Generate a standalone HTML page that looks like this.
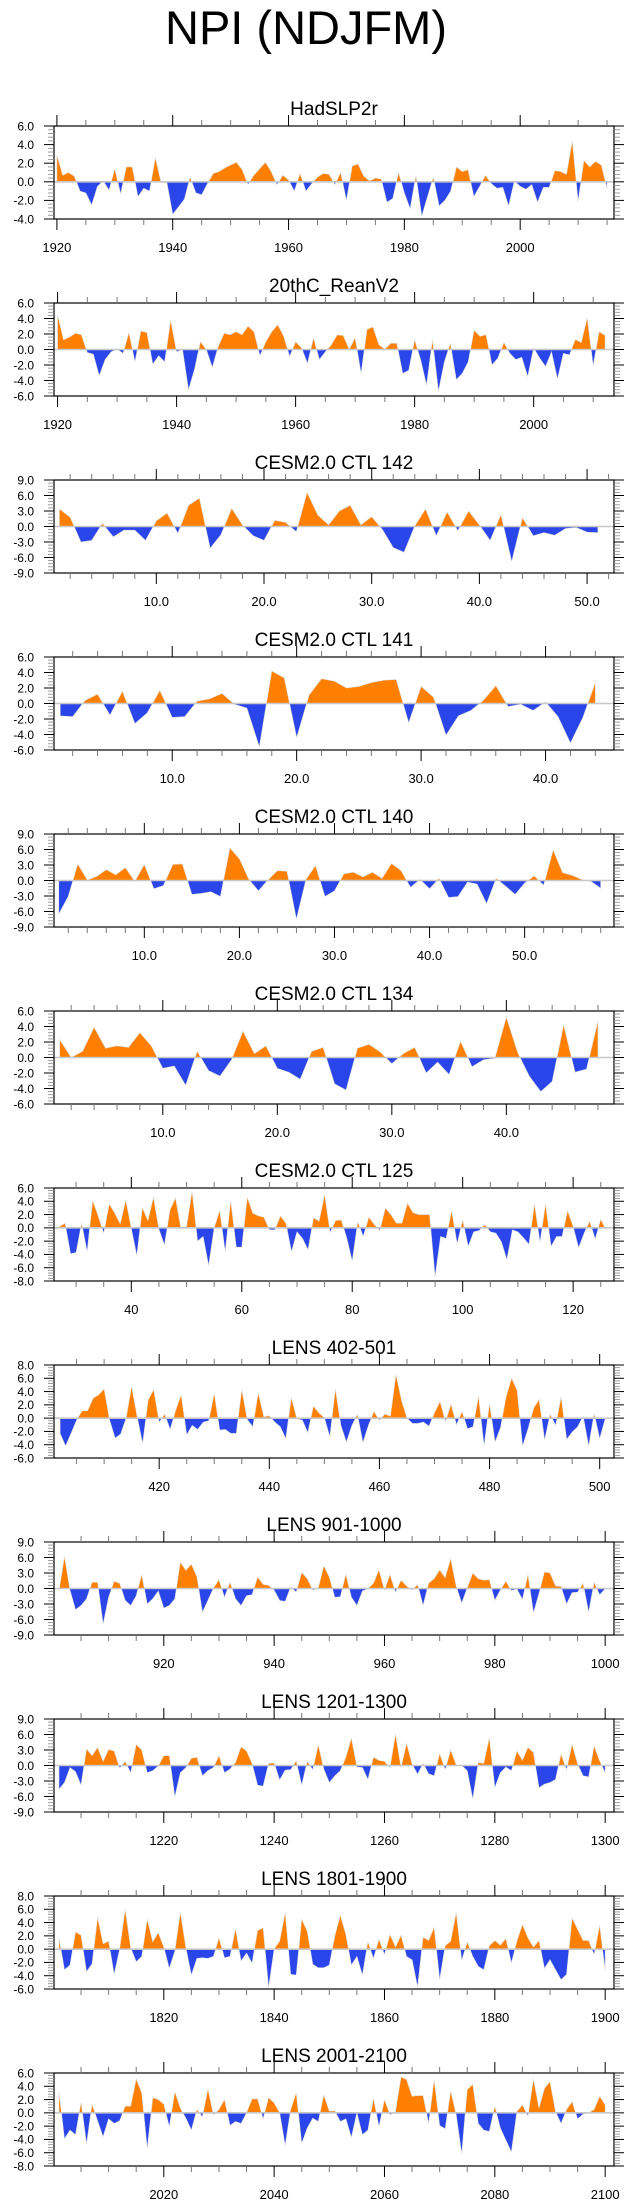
<!DOCTYPE html>
<html><head><meta charset="utf-8"><style>
html,body{margin:0;padding:0;background:#fff;}
svg{display:block;font-family:"Liberation Sans",sans-serif;}
</style></head><body>
<svg id="chart" width="635" height="2208" viewBox="0 0 635 2208" xmlns="http://www.w3.org/2000/svg">
<rect width="635" height="2208" fill="#fff"/>
<text x="306" y="44" font-size="47" text-anchor="middle" fill="#000">NPI (NDJFM)</text>
</svg>
<script>
const titles = ["HadSLP2r","20thC_ReanV2","CESM2.0 CTL 142","CESM2.0 CTL 141","CESM2.0 CTL 140","CESM2.0 CTL 134","CESM2.0 CTL 125","LENS 402-501","LENS 901-1000","LENS 1201-1300","LENS 1801-1900","LENS 2001-2100"];
const startX = [1920,1920,1,1,1,1,27,402,901,1201,1801,2001];
const xMin = [1919.5,1919.4,0.5,0.5,0.5,0.5,26,400.9,900.1,1200.1,1800.1,2000.1];
const xMax = [2016.2,2013.5,52.5,45.5,59.4,49.4,127.4,502.6,1001.6,1301.6,1901.6,2101.6];
const yMin = [-4,-6,-9,-6,-9,-6,-8,-6,-9,-9,-6,-8];
const yMax = [6,6,9,6,9,6,6,8,9,9,8,6];
const yStep = [2,2,3,2,3,2,2,2,3,3,2,2];
const xMajorStep = [20,20,10,10,10,10,20,20,20,20,20,20];
const xMinorStep = [5,5,2,2,2,2,5,5,5,5,5,5];
const xLabelDecimals = [0,0,1,1,1,1,0,0,0,0,0,0];

const values1 = [2.9,0.7,1.0,0.6,-1.0,-1.2,-2.5,-0.5,0.1,-0.9,1.4,-1.3,1.6,1.6,-1.6,-0.7,-1.0,2.6,-0.1,-0.1,-3.5,-2.7,-1.9,0.5,-1.2,-1.4,-0.2,0.9,1.1,1.5,1.8,2.1,1.3,-0.3,0.7,1.4,2.1,1.1,-0.3,0.7,0.2,-1.0,0.9,-1.0,-0.2,0.5,0.9,0.8,-0.3,1.0,-2.0,1.7,1.9,0.6,0.1,0.4,0.3,-2.2,-1.8,1.0,-1.2,-2.9,0.7,-3.7,-1.6,0.5,-2.6,-2.0,-1.0,1.6,1.1,1.3,-1.6,-0.5,0.7,-0.2,-0.7,-0.6,-2.6,0.1,-0.5,-0.8,-0.3,-2.2,-0.6,-0.6,1.2,1.1,0.8,4.4,-2.1,2.3,1.6,2.2,1.8,-0.7];
const values2 = [4.5,1.25,1.6,2.1,1.9,-0.4,-0.6,-3.4,-1.3,-0.3,0.05,-0.5,2.2,-1.6,2.4,2.2,-1.9,-0.8,-1.6,3.8,-0.3,0,-5.2,-2.6,1.0,0,-2.3,0.4,2.1,1.9,2.3,1.9,3.0,2.3,-0.8,1.0,2.3,3.2,1.7,-0.9,1.0,0.2,-1.8,1.5,-1.3,-0.3,0.6,1.9,1.8,0,1.5,-3.1,2.6,2.9,0.6,0.05,0.8,0.8,-3.1,-2.7,1.25,-1.3,-4.6,1.25,-5.4,-1.6,0.8,-3.9,-3.1,-1.6,2.5,1.7,1.9,-2.0,-1.1,0.9,-0.5,-1.3,-1.0,-3.5,0.2,-1.1,-2.2,-0.3,-3.8,-0.5,-0.7,1.3,0.9,4.1,-2.1,2.3,1.8];
const values3 = [3.4,1.8,-3.0,-2.7,0.6,-2.0,-0.7,-0.7,-2.7,1.1,2.6,-1.3,4.1,5.5,-4.2,-1.6,3.5,0.3,-1.8,-2.7,1.2,0.8,-1.0,6.6,2.2,0.3,3.0,4.1,0.3,1.9,-0.6,-4.1,-5.0,0.1,3.4,-1.8,2.8,-0.8,3.0,0.3,-2.7,2.3,-6.8,1.7,-1.8,-1.2,-1.7,-0.4,-0.2,-1.1,-1.2];
const values4 = [-1.6,-1.7,0.4,1.2,-1.5,1.6,-2.6,-1.2,1.7,-1.8,-1.7,0.3,0.6,1.3,-0.1,-0.6,-5.6,4.2,3.3,-4.4,1.1,3.2,2.9,2.0,2.2,2.7,3.0,3.1,-2.5,2.2,0.8,-4.1,-1.6,-0.9,0.4,2.3,-0.4,-0.1,-0.9,0.2,-1.7,-5.1,-1.8,2.7];
const values5 = [-6.5,-3.1,3.2,0.1,0.8,2.1,1.1,2.5,-0.2,3.1,-1.6,-1.0,3.1,3.2,-2.7,-2.5,-2.2,-3.1,6.3,4.2,0.2,-2.0,0.1,1.9,1.8,-7.5,0.2,2.9,-3.1,-2.0,1.3,1.6,0.7,1.6,0.4,3.3,1.9,-1.3,0.2,-1.6,0.4,-3.3,-3.1,-0.3,-0.7,-4.5,0.4,-1.1,-2.7,-0.5,0.9,-0.9,5.9,1.5,1.0,0.2,-0.2,-1.5];
const values6 = [2.3,0,0.8,3.9,1.2,1.5,1.3,3.2,1.5,-1.4,-1.1,-3.6,0.8,-1.7,-2.4,-0.3,3.4,0.5,1.5,-1.4,-1.9,-2.8,0.8,1.3,-3.4,-4.2,1.2,1.7,0.7,-0.8,0.5,1.3,-2.0,-0.6,-2.2,2.1,-1.2,-0.3,-0.1,5.2,0.6,-2.4,-4.4,-3.1,4.2,-1.9,-1.5,4.7];
const values7 = [0.2,0.7,-3.9,-3.7,0.7,-3.6,4.1,1.8,-0.8,3.6,2.2,0.6,4.2,-0.1,-4.2,3.0,1.1,4.6,-0.2,-2.6,2.7,4.5,-0.2,0.2,5.5,-2.0,-1.3,-5.7,0,2.6,-3.6,4.1,-2.9,-2.9,4.6,2.2,1.8,1.6,-0.3,-0.3,1.8,0.7,-3.6,-0.6,-1.6,-3.3,1.5,1.0,5.0,-0.7,1.1,1.2,-1.5,-5.0,0.9,-1.3,1.6,0.5,-0.4,3.0,2.0,0.7,0.7,3.7,2.3,2.0,2.0,2.0,-7.4,-1.3,-1.6,2.6,-2.4,1.2,-2.8,-0.6,-0.4,0.5,-0.6,-0.8,-2.1,-4.8,-0.3,-0.6,-1.5,-2.5,3.6,-2.2,3.6,-2.8,-1.3,-1.3,2.6,0.2,-3.0,-0.8,1.0,-1.7,1.3,-0.4];
const values8 = [-2.3,-4.2,-2.3,-0.3,1.1,1.1,3.0,3.5,4.4,-0.3,-3.0,-2.4,0,4.8,0.2,-3.8,2.7,4.3,-0.6,0.6,-1.7,1.2,3.5,-2.5,-1.1,-1.7,-0.6,-0.4,3.7,-1.8,-1.7,-2.3,-2.3,4.3,-0.2,-1.3,3.8,0.2,0.35,-0.6,-1.3,-3.1,3.1,-0.1,-0.3,-2.2,1.8,0.8,0.05,-2.8,4.4,-1.1,-3.6,-1.1,0.6,-3.7,-1.1,1.0,-0.3,0.6,0.3,6.6,2.7,0,-0.8,-0.8,-0.6,-1.2,0.8,2.5,-0.5,2.1,-1.0,1.0,-1.6,-1.3,3.3,-4.2,2.2,-3.6,-1.4,3.2,6.0,4.2,-4.2,-1.6,1.5,2.8,-3.3,0.6,-1.1,3.2,-3.2,-2.1,-1.3,0.3,-4.2,0.7,-3.1,-0.1];
const values9 = [-0.5,6.2,-0.3,-4.1,-3.3,-2.0,1.2,1.2,-6.9,-1.7,1.4,1.0,-2.3,-3.3,-1.4,2.7,-3.0,-2.0,-0.5,-3.8,-3.3,-2.0,5.1,3.5,4.7,2.3,-4.6,-2.3,0.1,1.7,-1.7,1.2,-2.0,-3.3,-1.4,-1.2,2.2,0.8,0.6,-0.3,-2.3,-2.5,0.3,-0.7,3.1,1.9,-0.3,0.1,4.4,2.2,-1.7,-1.6,2.8,-1.7,-3.3,-0.5,0,1.0,3.6,-0.3,2.7,-0.7,1.6,0.5,-0.3,0.8,-3.3,1.0,1.9,3.6,2.1,5.8,0.4,-2.8,0.1,3.0,1.9,1.6,1.7,-2.3,-0.3,1.4,-0.4,-0.1,-2.1,2.7,-4.7,-1.0,3.2,3.0,0.5,0.4,-3.0,-0.8,-0.7,1.0,-4.6,1.2,-1.2,-0.1];
const values10 = [-4.6,-3.3,-0.4,-1.2,-3.8,3.2,1.9,3.5,0.8,3.1,2.8,-0.5,0.8,-1.4,4.1,3.0,-1.4,-1.0,-0.1,1.9,1.9,-6.1,-1.4,-0.4,1.4,1.6,-2.0,-1.0,-0.4,1.9,-1.4,-0.7,0.6,3.6,2.8,0.4,-3.8,-4.0,0.4,0.5,-2.8,-0.9,-0.8,0.9,-3.8,0.8,-0.8,4.0,-0.7,-3.3,-2.0,-1.0,1.6,5.3,-0.3,-0.4,-2.7,1.6,1.0,0.8,-0.4,6.1,-0.4,4.3,0.3,-1.7,0.4,-1.6,-2.0,2.3,-0.8,3.0,0.1,0,-1.0,-6.5,0.6,0.4,5.4,-4.3,-1.4,-0.3,-1.0,2.8,1.0,3.5,2.5,-4.3,-3.6,-3.3,-2.7,2.2,-0.8,4.1,0.3,-2.0,-2.2,3.8,0.9,-1.4];
const values11 = [1.7,-3.1,-2.4,2.6,2.1,-3.4,-2.2,4.8,0.8,1.2,-3.8,0,6.0,0.2,-1.9,-1.1,4.5,1.1,2.5,0.3,-2.9,-0.3,5.6,0.2,-3.9,-1.4,-1.3,-1.4,-1.1,1.7,-1.3,-1.1,3.1,-1.8,-0.6,-2.1,2.8,3.2,-5.8,0,1.2,5.5,-3.8,-3.9,4.5,2.7,-2.3,-2.8,-2.8,-2.4,2.0,5.1,2.2,-2.4,-1.1,-3.9,1.1,-1.4,1.5,-0.8,2.2,0.3,2.1,-1.1,-1.6,-5.7,1.8,1.3,3.3,-4.6,0.5,1.2,5.5,-1.7,1.1,-1.1,-2.6,-3.1,0.5,1.3,0.6,1.6,-2.1,1.2,3.7,1.7,0.3,1.3,-2.9,-1.6,-3.1,-4.6,-3.8,4.7,3.0,1.3,1.3,-0.8,3.6,-3.2];
const values12 = [3.2,-3.9,-2.6,-3.3,1.6,-4.7,1.3,-1.2,-3.6,-0.9,-1.6,-1.2,1.0,1.0,5.1,3.0,-5.4,2.3,2.0,1.3,-2.1,3.2,0.7,-0.8,-2.6,0.5,-0.6,3.6,-0.3,0.5,2.0,-1.9,-1.3,-1.6,0,2.1,2.1,-0.9,2.3,1.5,0,-4.9,0.5,3.0,-4.6,-2.3,-0.8,-1.3,2.7,0.25,0.3,-1.3,-0.9,-3.7,0,-3.3,-2.6,2.2,-2.1,2.0,-0.3,0.2,5.4,5.0,2.5,2.6,2.6,-1.6,5.0,-1.9,-2.4,3.3,-0.3,-6.2,3.5,4.3,-1.6,-2.6,-2.8,1.0,-2.3,-4.1,-5.9,0.2,1.2,-0.5,5.1,0.7,3.7,4.7,0.2,-1.6,0.5,1.7,-0.9,-0.2,0,0.5,2.5,1.2];
const allValues = [values1,values2,values3,values4,values5,values6,values7,values8,values9,values10,values11,values12];

const NS = "http://www.w3.org/2000/svg";
const svg = document.getElementById("chart");
const BOX_L = 54, BOX_R = 614, BOX_H = 93, TOP0 = 126, GAP = 177;
function mk(tag, attrs, parent) {
  const e = document.createElementNS(NS, tag);
  for (const k in attrs) e.setAttribute(k, attrs[k]);
  (parent || svg).appendChild(e);
  return e;
}
function fmtX(v, d) { return d ? v.toFixed(d) : String(Math.round(v)); }

for (let p = 0; p < 12; p++) {
  const top = TOP0 + p * GAP, bot = top + BOX_H;
  const xs = v => BOX_L + (v - xMin[p]) / (xMax[p] - xMin[p]) * (BOX_R - BOX_L);
  const ys = v => top + (yMax[p] - v) / (yMax[p] - yMin[p]) * BOX_H;
  const g = mk("g", {});
  
  

  const t = mk("text", {x: (BOX_L + BOX_R) / 2, y: top - 11, "font-size": 19, "text-anchor": "middle", fill: "#000"}, g);
  t.textContent = titles[p];
  
  

  const vals = allValues[p];
  const y0 = ys(0);
  let d = "";
  vals.forEach((v, i) => { d += (i ? "L" : "M") + xs(startX[p] + i).toFixed(2) + "," + ys(v).toFixed(2); });
  d += "L" + xs(startX[p] + vals.length - 1).toFixed(2) + "," + y0 + "L" + xs(startX[p]).toFixed(2) + "," + y0 + "Z";
  const cpA = mk("clipPath", {id: "ca" + p}, g);
  mk("rect", {x: BOX_L, y: top, width: BOX_R - BOX_L, height: y0 - top}, cpA);
  const cpB = mk("clipPath", {id: "cb" + p}, g);
  mk("rect", {x: BOX_L, y: y0, width: BOX_R - BOX_L, height: bot - y0}, cpB);
  const pos = mk("path", {d: d, fill: "#ff8000", stroke: "#ddd", "stroke-width": 0.6, "clip-path": "url(#ca" + p + ")"}, g);
  
  
  const neg = mk("path", {d: d, fill: "#2a45ea", stroke: "#ddd", "stroke-width": 0.6, "clip-path": "url(#cb" + p + ")"}, g);
  
  
  const zl = mk("line", {x1: BOX_L, x2: BOX_R, y1: y0, y2: y0, stroke: "#c8c8c8", "stroke-width": 1.6}, g);
  
  

  const box = mk("rect", {x: BOX_L, y: top, width: BOX_R - BOX_L, height: BOX_H, fill: "none", stroke: "#000", "stroke-width": 1.2}, g);
  
  

  for (let v = yMin[p]; v <= yMax[p] + 1e-9; v += yStep[p]) {
    const y = ys(v);
    mk("line", {x1: BOX_L - 10, x2: BOX_L, y1: y, y2: y, stroke: "#000", "stroke-width": 1}, g);
    mk("line", {x1: BOX_R, x2: BOX_R + 10, y1: y, y2: y, stroke: "#000", "stroke-width": 1}, g);
    const lb = mk("text", {x: 34, y: y + 4.3, "font-size": 12, "text-anchor": "end", fill: "#000"}, g);
    lb.textContent = v.toFixed(1);
    
    
    if (v < yMax[p]) {
      for (let k = 1; k < 5; k++) {
        const ym = ys(v + yStep[p] * k / 5);
        mk("line", {x1: BOX_L - 6, x2: BOX_L, y1: ym, y2: ym, stroke: "#888", "stroke-width": 0.8}, g);
        mk("line", {x1: BOX_R, x2: BOX_R + 6, y1: ym, y2: ym, stroke: "#888", "stroke-width": 0.8}, g);
      }
    }
  }
  const mn = xMinorStep[p], mj = xMajorStep[p];
  for (let v = Math.ceil(xMin[p] / mn) * mn; v <= xMax[p]; v += mn) {
    const x = xs(v);
    const major = Math.abs(v / mj - Math.round(v / mj)) < 1e-9;
    const L = major ? 11 : 6;
    mk("line", {x1: x, x2: x, y1: top - L, y2: top, stroke: major ? "#000" : "#777", "stroke-width": 1}, g);
    mk("line", {x1: x, x2: x, y1: bot, y2: bot + L, stroke: major ? "#000" : "#777", "stroke-width": 1}, g);
    if (major) {
      const lb = mk("text", {x: x, y: bot + 33, "font-size": 13, "text-anchor": "middle", fill: "#000"}, g);
      lb.textContent = fmtX(v, xLabelDecimals[p]);
      
      
    }
  }
}
</script>
</body></html>
